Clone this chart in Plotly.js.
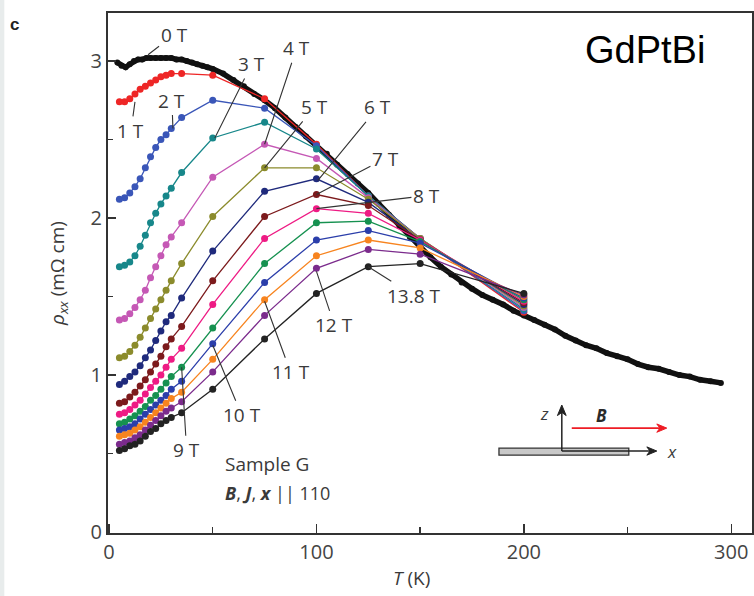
<!DOCTYPE html>
<html>
<head>
<meta charset="utf-8">
<script src="https://cdn.plot.ly/plotly-3.0.1.min.js"></script>
<style>html,body{margin:0;padding:0;background:#fff;}#chart{width:754px;height:596px;}</style>
</head>
<body>
<div id="chart"></div>
<script>
// ---- data ----
const T_low = [5, 7.5, 10, 12.5, 15, 17.5, 20, 22.5, 25, 27.5, 30, 35];
const T_high = [50, 75, 100, 125, 150, 200];

const T_0T = [4,6,8,10,12,14,16,18,20,22.5,25,27.5,30,32.5,35,37.5,40,42.5,45,47.5,50,55,60,65,70,75,80,85,90,95,100,105,110,115,120,125,130,135,140,145,150,155,160,165,170,175,180,185,190,195,200,205,210,215,220,225,230,235,240,245,250,255,260,265,270,275,280,285,290,295];
const R_0T = [2.99,2.97,2.96,2.98,3.00,3.01,3.01,3.02,3.02,3.02,3.02,3.02,3.02,3.01,3.01,3.00,2.99,2.98,2.97,2.96,2.95,2.92,2.88,2.84,2.79,2.75,2.70,2.64,2.58,2.52,2.47,2.41,2.34,2.28,2.22,2.16,2.09,2.02,1.95,1.88,1.82,1.75,1.69,1.64,1.59,1.55,1.51,1.48,1.45,1.41,1.38,1.35,1.32,1.29,1.25,1.22,1.19,1.17,1.14,1.12,1.10,1.07,1.05,1.04,1.02,1.00,0.99,0.97,0.96,0.95];

const fieldLabels = ["1 T","2 T","3 T","4 T","5 T","6 T","7 T","8 T","9 T","10 T","11 T","12 T","13.8 T"];
const R_low = [
  [2.74,2.74,2.76,2.79,2.82,2.84,2.86,2.88,2.90,2.91,2.92,2.92],
  [2.12,2.13,2.16,2.20,2.25,2.32,2.39,2.45,2.50,2.53,2.57,2.64],
  [1.69,1.70,1.72,1.76,1.82,1.89,1.97,2.03,2.09,2.14,2.19,2.29],
  [1.35,1.36,1.39,1.43,1.48,1.54,1.62,1.69,1.76,1.83,1.88,1.97],
  [1.11,1.12,1.15,1.19,1.24,1.30,1.36,1.42,1.48,1.54,1.60,1.71],
  [0.94,0.96,0.99,1.02,1.06,1.11,1.16,1.22,1.28,1.34,1.38,1.49],
  [0.82,0.83,0.86,0.89,0.93,0.97,1.02,1.07,1.12,1.18,1.23,1.31],
  [0.75,0.76,0.78,0.81,0.84,0.88,0.92,0.96,1.00,1.05,1.10,1.17],
  [0.69,0.70,0.72,0.74,0.77,0.80,0.84,0.87,0.91,0.95,0.99,1.05],
  [0.65,0.66,0.67,0.69,0.72,0.75,0.78,0.81,0.84,0.87,0.91,0.96],
  [0.61,0.62,0.63,0.65,0.67,0.70,0.73,0.76,0.79,0.82,0.85,0.89],
  [0.56,0.57,0.58,0.60,0.62,0.65,0.68,0.71,0.74,0.77,0.79,0.83],
  [0.52,0.53,0.55,0.56,0.58,0.61,0.64,0.66,0.69,0.71,0.73,0.76]
];
const R_high = [
  [2.91,2.76,2.47,2.14,1.87,1.40],
  [2.75,2.70,2.46,2.14,1.87,1.41],
  [2.51,2.61,2.44,2.14,1.87,1.42],
  [2.26,2.47,2.38,2.13,1.87,1.43],
  [2.01,2.32,2.32,2.12,1.87,1.44],
  [1.79,2.17,2.25,2.10,1.86,1.45],
  [1.60,2.01,2.15,2.08,1.86,1.46],
  [1.45,1.87,2.06,2.03,1.86,1.47],
  [1.30,1.71,1.97,1.98,1.85,1.48],
  [1.20,1.59,1.86,1.92,1.84,1.49],
  [1.10,1.48,1.76,1.86,1.81,1.50],
  [1.02,1.38,1.68,1.80,1.77,1.51],
  [0.91,1.23,1.52,1.69,1.71,1.52]
];
const colors = ["#ee2626","#3a56b8","#17878a","#c558b5","#8b8b2c","#1f2a7c","#7c1a1c","#ee1b84","#169150","#2b3eaa","#f7841f","#7b2b8c","#232323"];

// label annotations: [text, tipT, tipR, dx, dy]
const labelTips = [
  ["0 T", 18.8, 3.04, 26, -20],
  ["1 T", 12.5, 2.74, -4, 29],
  ["2 T", 30.8, 2.57, -1, -28],
  ["3 T", 51, 2.51, 37, -74],
  ["4 T", 75, 2.47, 32, -96],
  ["5 T", 75, 2.32, 50, -61],
  ["6 T", 100.7, 2.24, 60, -73],
  ["7 T", 100, 2.15, 69, -36],
  ["8 T", 100, 2.06, 110, -13],
  ["9 T", 35, 1.05, 5, 83],
  ["10 T", 50, 1.19, 29, 70],
  ["11 T", 75, 1.47, 26, 71],
  ["12 T", 100, 1.66, 18, 54],
  ["13.8 T", 125, 1.69, 46, 29]
];

// ---- traces ----
const traces = [];
traces.push({x: T_0T, y: R_0T, type: "scatter", mode: "lines+markers",
  line: {color: "#111", width: 5.5}, marker: {color: "#111", size: 6}, name: "0 T"});
for (let i = 0; i < fieldLabels.length; i++) {
  traces.push({
    x: T_low.concat(T_high), y: R_low[i].concat(R_high[i]),
    type: "scatter", mode: "lines+markers", name: fieldLabels[i],
    line: {color: colors[i], width: 1.3}, marker: {color: colors[i], size: 7}
  });
}

const font = "Open Sans, Noto Sans, sans-serif";
const annotations = labelTips.map(a => ({
  x: a[1], y: a[2], xref: "x", yref: "y", text: a[0], showarrow: true,
  arrowhead: 0, arrowwidth: 1.1, arrowcolor: "#333", ax: a[3], ay: a[4],
  font: {family: font, size: 19, color: "#3a3a3a"}, standoff: 0
}));

annotations.push(
  {x: 54.9, y: 0.433, xref: "x", yref: "y", xanchor: "left", yanchor: "middle", showarrow: false,
   text: "Sample G", font: {family: font, size: 19, color: "#3a3a3a"}},
  {x: 54.9, y: 0.248, xref: "x", yref: "y", xanchor: "left", yanchor: "middle", showarrow: false,
   text: "<b><i>B</i></b>, <b><i>J</i></b>, <b><i>x</i></b> || 110", font: {family: font, size: 18, color: "#3a3a3a"}},
  {x: 210.1, y: 0.758, xref: "x", yref: "y", showarrow: false, text: "<i>z</i>",
   font: {family: font, size: 17, color: "#3a3a3a"}},
  {x: 268, y: 0.516, xref: "x", yref: "y", xanchor: "left", showarrow: false, text: "<i>x</i>",
   font: {family: font, size: 17, color: "#3a3a3a"}},
  {x: 237.6, y: 0.745, xref: "x", yref: "y", showarrow: false, text: "<b><i>B</i></b>",
   font: {family: font, size: 17, color: "#2a2a2a"}},
  // panel letter and compound name
  {x: -0.155, y: 0.978, xref: "paper", yref: "paper", xanchor: "left", yanchor: "middle", showarrow: false,
   text: "<b>c</b>", font: {family: "Liberation Sans, Arial, sans-serif", size: 17, color: "#222"}},
  {x: 0.834, y: 0.929, xref: "paper", yref: "paper", xanchor: "center", yanchor: "middle", showarrow: false,
   text: "GdPtBi", font: {family: "Liberation Sans, Arial, sans-serif", size: 38, color: "#000"}},
  // x axis title
  {x: 0.4705, y: -0.0865, xref: "paper", yref: "paper", xanchor: "center", yanchor: "middle", showarrow: false,
   text: "<i>T</i> (K)", font: {family: font, size: 19, color: "#3a3a3a"}}
);

const shapes = [
  {type: "rect", xref: "paper", yref: "paper", x0: -0.1677, x1: -0.161, y0: -0.125, y1: 1.03,
   fillcolor: "#e8ecec", line: {width: 0}, layer: "below"},
  // inset sample bar
  {type: "rect", xref: "x", yref: "y", x0: 188, x1: 250.6, y0: 0.49, y1: 0.535,
   fillcolor: "#c8c8c8", line: {color: "#333", width: 1.3}},
  // z axis
  {type: "line", xref: "x", yref: "y", x0: 218.3, x1: 218.3, y0: 0.516, y1: 0.77, line: {color: "#222", width: 1.5}},
  {type: "path", xref: "x", yref: "y", path: "M 218.3 0.809 L 216.2 0.742 L 218.3 0.762 L 220.4 0.742 Z",
   fillcolor: "#222", line: {color: "#222", width: 1}},
  // x axis
  {type: "line", xref: "x", yref: "y", x0: 218.3, x1: 261, y0: 0.516, y1: 0.516, line: {color: "#222", width: 1.5}},
  {type: "path", xref: "x", yref: "y", path: "M 264.1 0.516 L 259.3 0.5425 L 260.8 0.516 L 259.3 0.4895 Z",
   fillcolor: "#222", line: {color: "#222", width: 1}},
  // B arrow (red)
  {type: "line", xref: "x", yref: "y", x0: 223.1, x1: 266, y0: 0.662, y1: 0.662, line: {color: "#ee1c24", width: 1.6}},
  {type: "path", xref: "x", yref: "y", path: "M 268.9 0.662 L 264.1 0.6885 L 265.6 0.662 L 264.1 0.6355 Z",
   fillcolor: "#ee1c24", line: {color: "#ee1c24", width: 1}}
];

const layout = {
  width: 754, height: 596,
  margin: {l: 108, r: 2, t: 13, b: 63},
  paper_bgcolor: "#fff", plot_bgcolor: "#fff",
  showlegend: false,
  xaxis: {
    range: [-0.5, 310], tick0: 0, dtick: 100, ticks: "inside", ticklen: 9, tickwidth: 1.5, tickcolor: "#333",
    showline: true, linewidth: 2, linecolor: "#333", mirror: true, showgrid: false, zeroline: false,
    tickfont: {family: font, size: 20, color: "#444"},
    minor: {dtick: 50, ticks: "inside", ticklen: 6, tickwidth: 1.5, tickcolor: "#333", showgrid: false}
  },
  yaxis: {
    range: [-0.006, 3.306], tick0: 0, dtick: 1, ticks: "inside", ticklen: 8, tickwidth: 1.5, tickcolor: "#333",
    showline: true, linewidth: 2, linecolor: "#333", mirror: true, showgrid: false, zeroline: false,
    tickfont: {family: font, size: 20, color: "#444"},
    minor: {dtick: 0.5, ticks: "inside", ticklen: 5, tickwidth: 1.5, tickcolor: "#333", showgrid: false},
    title: {text: "<i>ρ</i><sub><i>xx</i></sub> (mΩ cm)", font: {family: font, size: 19, color: "#3a3a3a"}, standoff: 21}
  },
  shapes: shapes,
  annotations: annotations
};

Plotly.newPlot("chart", traces, layout, {staticPlot: true});
</script>
</body>
</html>
